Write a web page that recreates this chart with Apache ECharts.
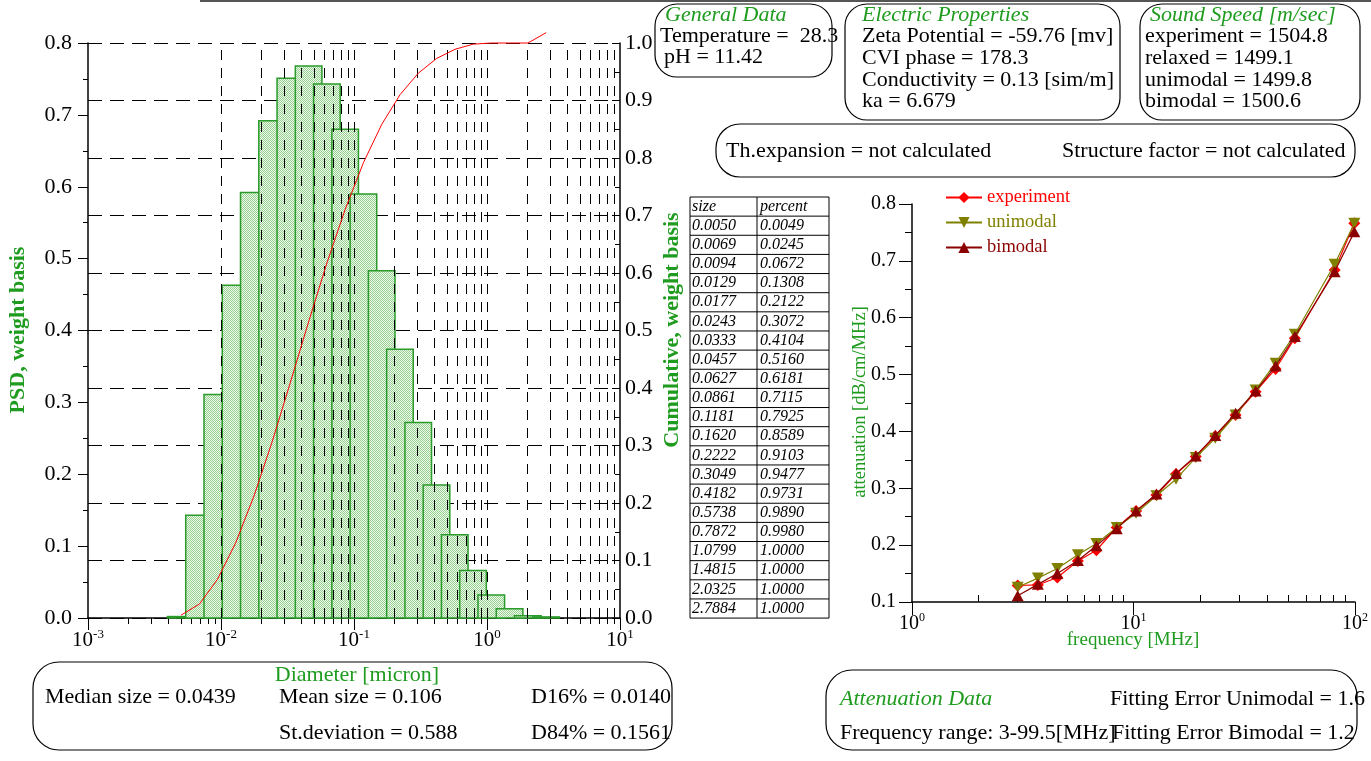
<!DOCTYPE html>
<html><head><meta charset="utf-8">
<script src="https://cdn.jsdelivr.net/npm/echarts@6/dist/echarts.min.js"></script>
<style>html,body{margin:0;padding:0;background:#fff}#c{width:1371px;height:761px}</style>
</head><body><div id="c"></div><script>
// ---- PSD histogram (bins in micron) ----
const binLow  = [0.003958,0.005430,0.007450,0.01022,0.01402,0.01924,0.02639,0.03621,0.04968,0.06816,0.09352,0.1283,0.1760,0.2415,0.3313,0.4545,0.6236,0.8556,1.174,1.610,2.209];
const binHigh = [0.006273,0.008606,0.01181,0.01620,0.02222,0.03049,0.04183,0.05739,0.07874,0.1080,0.1482,0.2033,0.2789,0.3827,0.5251,0.7203,0.9884,1.356,1.861,2.552,3.501];
const psd     = [0.002,0.143,0.311,0.463,0.592,0.692,0.751,0.768,0.743,0.680,0.590,0.483,0.374,0.272,0.185,0.116,0.066,0.032,0.013,0.003,0.0015];
// ---- cumulative table ----
const tableSize    = ['0.0050','0.0069','0.0094','0.0129','0.0177','0.0243','0.0333','0.0457','0.0627','0.0861','0.1181','0.1620','0.2222','0.3049','0.4182','0.5738','0.7872','1.0799','1.4815','2.0325','2.7884'];
const tablePercent = ['0.0049','0.0245','0.0672','0.1308','0.2122','0.3072','0.4104','0.5160','0.6181','0.7115','0.7925','0.8589','0.9103','0.9477','0.9731','0.9890','0.9980','1.0000','1.0000','1.0000','1.0000'];
// cumulative curve as drawn
const cumX = [0.0050,0.0069,0.0094,0.0129,0.0177,0.0243,0.0333,0.0457,0.0627,0.0861,0.1181,0.1620,0.2222,0.3049,0.4182,0.5738,0.7872,1.0799,1.4815,2.0325,2.7884];
const cumY = [0.0049,0.0245,0.0672,0.1308,0.2122,0.3072,0.4104,0.5160,0.6181,0.7115,0.7925,0.8589,0.9103,0.9477,0.9731,0.9890,0.9980,1.0000,1.0000,1.0000,1.018];
// ---- attenuation ----
const freq       = [3.0,3.7,4.53,5.61,6.80,8.40,10.27,12.69,15.56,19.1,23.4,28.9,35.6,43.8,53.5,80.9,99.3];
const experiment = [0.129,0.130,0.143,0.172,0.191,0.231,0.260,0.288,0.325,0.356,0.392,0.429,0.470,0.510,0.564,0.684,0.766];
const unimodal   = [0.126,0.142,0.159,0.183,0.203,0.231,0.256,0.287,0.316,0.354,0.388,0.429,0.473,0.520,0.571,0.694,0.766];
const bimodal    = [0.111,0.131,0.150,0.173,0.199,0.229,0.260,0.290,0.326,0.357,0.393,0.432,0.471,0.515,0.567,0.681,0.751];
// tick positions
const psdDecades = [0.01,0.1,1];
const psdMinor = [];
[0.001,0.01,0.1,1].forEach(d => { for (let m = 2; m <= 9; m++) psdMinor.push(+(m*d).toPrecision(3)); });
const attMinor = [];
[1,10].forEach(d => { for (let m = 2; m <= 9; m++) attMinor.push(m*d); });

const SERIF = 'Liberation Serif';
const GREEN = '#1f9b1f';
const FS = 22;

const pc = document.createElement('canvas'); pc.width = 2; pc.height = 2;
const pctx = pc.getContext('2d');
pctx.fillStyle = '#eef8ec'; pctx.fillRect(0,0,2,2);
pctx.fillStyle = '#96d190'; pctx.fillRect(0,0,1,1); pctx.fillRect(1,1,1,1);
const pattern = {image: pc, repeat: 'repeat'};

function powLabel(v) {
  const e = Math.round(Math.log10(v));
  return '{b|10}{s|' + e + '}';
}
const richLab = (big, small) => ({ b: {fontFamily: SERIF, fontSize: big, color: '#000', lineHeight: big + 4},
  s: {fontFamily: SERIF, fontSize: small, color: '#000', verticalAlign: 'top', lineHeight: small} });

const chart = echarts.init(document.getElementById('c'), null, {renderer: 'canvas'});

// graphics
const g = [];
g.push({type: 'line', shape: {x1: 200, y1: 1, x2: 1371, y2: 1}, style: {stroke: '#555', lineWidth: 2}});
function box(x, y, w, h, r) { g.push({type: 'rect', shape: {x, y, width: w, height: h, r}, style: {fill: 'none', stroke: '#000', lineWidth: 1.2}}); }
function txt(x, y, t, opt) {
  opt = opt || {};
  g.push({type: 'text', x, y, rotation: opt.rot || 0, z: 10, style: {text: t, fontFamily: SERIF, fontSize: opt.size || FS,
    fontStyle: opt.italic ? 'italic' : 'normal', fontWeight: opt.bold ? 'bold' : 'normal',
    fill: opt.color || '#000', align: opt.align || 'left', verticalAlign: 'middle'}});
}
box(655, 4, 177, 73, 22);
txt(665, 15, 'General Data', {italic: true, color: GREEN});
txt(660, 36, 'Temperature =  28.3');
txt(664, 57, 'pH = 11.42');
box(845, 4, 275, 116, 22);
txt(862, 15, 'Electric Properties', {italic: true, color: GREEN});
txt(862, 36, 'Zeta Potential = -59.76 [mv]');
txt(862, 58, 'CVI phase = 178.3');
txt(862, 80, 'Conductivity = 0.13 [sim/m]');
txt(862, 101, 'ka = 6.679');
box(1140, 4, 220, 116, 22);
txt(1150, 15, 'Sound Speed [m/sec]', {italic: true, color: GREEN});
txt(1145, 36, 'experiment = 1504.8');
txt(1145, 58, 'relaxed = 1499.1');
txt(1145, 80, 'unimodal = 1499.8');
txt(1145, 101, 'bimodal = 1500.6');
box(716, 124, 639, 53, 24);
txt(726, 151, 'Th.expansion = not calculated');
txt(1062, 151, 'Structure factor = not calculated');
box(33, 662, 639, 88, 26);
txt(357, 675, 'Diameter [micron]', {color: GREEN, align: 'center'});
txt(45, 697, 'Median size = 0.0439');
txt(279, 697, 'Mean size = 0.106');
txt(531, 697, 'D16% = 0.0140');
txt(279, 733, 'St.deviation = 0.588');
txt(531, 733, 'D84% = 0.1561');
box(826, 670, 531, 80, 26);
txt(840, 699, 'Attenuation Data', {italic: true, color: GREEN});
txt(1110, 699, 'Fitting Error Unimodal = 1.6');
txt(840, 733, 'Frequency range: 3-99.5[MHz]');
txt(1112, 733, 'Fitting Error Bimodal = 1.2');
txt(18, 330, 'PSD, weight basis', {bold: true, color: GREEN, rot: Math.PI/2, align: 'center'});
txt(672, 330, 'Cumulative, weight basis', {bold: true, color: GREEN, rot: Math.PI/2, align: 'center'});
txt(860, 402, 'attenuation [dB/cm/MHz]', {color: GREEN, rot: Math.PI/2, align: 'center', size: 18.5});
txt(1133, 640, 'frequency [MHz]', {color: GREEN, align: 'center', size: 19});
// table
const tX0 = 690, tX1 = 757, tX2 = 829, tY0 = 197, rowH = 19.14;
const nRows = tableSize.length + 1;
g.push({type: 'rect', shape: {x: tX0, y: tY0, width: tX2 - tX0, height: rowH * nRows}, style: {fill: '#fff', stroke: '#000', lineWidth: 1}});
g.push({type: 'line', shape: {x1: tX1, y1: tY0, x2: tX1, y2: tY0 + rowH * nRows}, style: {stroke: '#000', lineWidth: 1}});
for (let i = 1; i < nRows; i++) g.push({type: 'line', shape: {x1: tX0, y1: tY0 + rowH * i, x2: tX2, y2: tY0 + rowH * i}, style: {stroke: '#000', lineWidth: 1}});
const tcell = (x, y, t) => g.push({type: 'text', x, y, z: 10, style: {text: t, fontFamily: SERIF, fontSize: 16, fontStyle: 'italic', fill: '#000', verticalAlign: 'middle'}});
tcell(tX0 + 2, tY0 + rowH / 2, 'size'); tcell(tX1 + 3, tY0 + rowH / 2, 'percent');
tableSize.forEach((s, i) => { tcell(tX0 + 2, tY0 + rowH * (i + 1.5), s); tcell(tX1 + 3, tY0 + rowH * (i + 1.5), tablePercent[i]); });

const axisLineBlack = {show: true, lineStyle: {color: '#000', width: 1.5}};
const gridMarks = psdMinor.concat(psdDecades).map(v => ({xAxis: v}));

const option = {
  animation: false,
  backgroundColor: '#fff',
  grid: [
    {left: 88, right: 751, top: 43, bottom: 143},
    {left: 912, right: 15, top: 204, bottom: 159}
  ],
  xAxis: [
    {type: 'log', gridIndex: 0, min: 0.001, max: 10, logBase: 10, position: 'bottom',
      axisLine: axisLineBlack, axisTick: {show: true, length: 12, lineStyle: {color: '#000'}},
      axisLabel: {formatter: powLabel, margin: 10, rich: richLab(21, 13)}, splitLine: {show: false}},
    {type: 'log', gridIndex: 0, min: 0.001, max: 10, logBase: 10, position: 'bottom',
      axisLine: {show: false}, axisTick: {show: true, length: 6, customValues: psdMinor, lineStyle: {color: '#000'}},
      axisLabel: {show: false}, splitLine: {show: false}},
    {type: 'log', gridIndex: 1, min: 1, max: 100, logBase: 10, position: 'bottom',
      axisLine: axisLineBlack, axisTick: {show: true, length: 13, lineStyle: {color: '#000'}},
      axisLabel: {formatter: powLabel, margin: 10, rich: richLab(20, 12)}, splitLine: {show: false}},
    {type: 'log', gridIndex: 1, min: 1, max: 100, logBase: 10, position: 'bottom',
      axisLine: {show: false}, axisTick: {show: true, inside: true, length: 7, customValues: attMinor, lineStyle: {color: '#000'}},
      axisLabel: {show: false}, splitLine: {show: false}}
  ],
  yAxis: [
    {type: 'value', gridIndex: 0, min: 0, max: 0.8, interval: 0.1, position: 'left',
      axisLine: axisLineBlack, axisTick: {show: true, length: 10, lineStyle: {color: '#000'}},
      minorTick: {show: true, splitNumber: 2, length: 5, lineStyle: {color: '#000'}},
      axisLabel: {formatter: v => v.toFixed(1), fontFamily: SERIF, fontSize: 22, color: '#000', margin: 16},
      splitLine: {show: false}},
    {type: 'value', gridIndex: 0, min: 0, max: 1.0, interval: 0.1, position: 'right',
      axisLine: axisLineBlack, axisTick: {show: true, inside: true, length: 8, lineStyle: {color: '#000'}},
      minorTick: {show: true, splitNumber: 2, length: 5, lineStyle: {color: '#000'}},
      axisLabel: {formatter: v => v.toFixed(1), fontFamily: SERIF, fontSize: 22, color: '#000', margin: 5},
      splitLine: {show: true, lineStyle: {color: '#000', width: 1, type: [14, 8]}}},
    {type: 'value', gridIndex: 1, min: 0.1, max: 0.8, interval: 0.1, position: 'left',
      axisLine: axisLineBlack, axisTick: {show: true, length: 13, lineStyle: {color: '#000'}},
      minorTick: {show: true, splitNumber: 2, length: 7, lineStyle: {color: '#000'}},
      axisLabel: {formatter: v => v.toFixed(1), fontFamily: SERIF, fontSize: 20, color: '#000', margin: 16},
      splitLine: {show: false}}
  ],
  legend: {
    left: 940, top: 183, orient: 'vertical', itemGap: 6, itemWidth: 36, itemHeight: 14,
    textStyle: {fontFamily: SERIF, fontSize: 18.5},
    data: [
      {name: 'experiment', textStyle: {color: '#ff0000'}},
      {name: 'unimodal', textStyle: {color: '#808000'}},
      {name: 'bimodal', textStyle: {color: '#8b0000'}}
    ]
  },
  series: [
    {type: 'scatter', xAxisIndex: 0, yAxisIndex: 1, data: [], z: 1, silent: true,
      markLine: {silent: true, symbol: ['none', 'none'], label: {show: false}, animation: false,
        lineStyle: {color: '#000', width: 1, type: [10, 8]}, emphasis: {disabled: true}, data: gridMarks}},
    {type: 'custom', xAxisIndex: 0, yAxisIndex: 0, z: 3, silent: true,
      data: binLow.map((l, i) => [l, binHigh[i], psd[i]]),
      encode: {x: [0, 1], y: 2},
      renderItem: function (params, api) {
        const p0 = api.coord([api.value(0), api.value(2)]);
        const p1 = api.coord([api.value(1), 0]);
        return {type: 'rect', shape: {x: p0[0], y: p0[1], width: p1[0] - p0[0], height: p1[1] - p0[1]},
          style: {fill: pattern, stroke: '#2a9a2a', lineWidth: 1.5}};
      }},
    {type: 'line', name: 'cumulative', xAxisIndex: 0, yAxisIndex: 1, z: 5, symbol: 'none', smooth: false, clip: false,
      data: cumX.map((x, i) => [x, cumY[i]]), lineStyle: {color: '#ff0000', width: 1}},
    {type: 'line', name: 'experiment', xAxisIndex: 2, yAxisIndex: 2, z: 5, symbol: 'diamond', symbolSize: 12,
      data: freq.map((f, i) => [f, experiment[i]]), itemStyle: {color: '#ff0000'}, lineStyle: {color: '#ff0000', width: 1.2}},
    {type: 'line', name: 'unimodal', xAxisIndex: 2, yAxisIndex: 2, z: 6, symbol: 'path://M0,0 L10,0 L5,9 Z', symbolSize: [12, 11],
      data: freq.map((f, i) => [f, unimodal[i]]), itemStyle: {color: '#808000'}, lineStyle: {color: '#808000', width: 1.2}},
    {type: 'line', name: 'bimodal', xAxisIndex: 2, yAxisIndex: 2, z: 7, symbol: 'triangle', symbolSize: [12, 11],
      data: freq.map((f, i) => [f, bimodal[i]]), itemStyle: {color: '#8b0000'}, lineStyle: {color: '#8b0000', width: 1.2}}
  ],
  graphic: g
};
chart.setOption(option);
</script></body></html>
